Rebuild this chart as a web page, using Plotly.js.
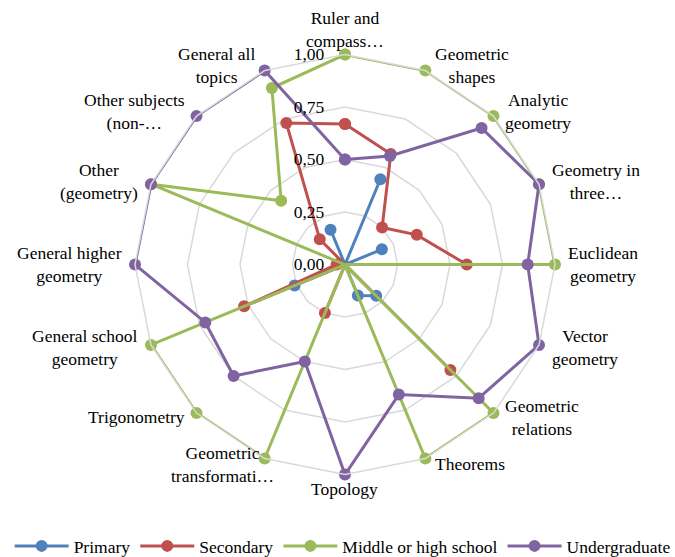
<!DOCTYPE html>
<html>
<head>
<meta charset="utf-8">
<script src="https://cdn.plot.ly/plotly-3.0.1.min.js"></script>
<style>
html, body { margin: 0; padding: 0; background: #ffffff; }
#chart { width: 675px; height: 557px; }
</style>
</head>
<body>
<div id="chart"></div>
<script>
// Category labels (clockwise from top), as truncated/wrapped in the original
const categories = [
  "Ruler and<br>compass…",
  "Geometric<br>shapes",
  "Analytic<br>geometry",
  "Geometry in<br>three…",
  "Euclidean<br>geometry",
  "Vector<br>geometry",
  "Geometric<br>relations",
  "Theorems",
  "Topology",
  "Geometric<br>transformati…",
  "Trigonometry",
  "General school<br>geometry",
  "General higher<br>geometry",
  "Other<br>(geometry)",
  "Other subjects<br>(non-…",
  "General all<br>topics"
];

const primary      = [0.00, 0.44, 0.00, 0.19, 0.00, 0.00, 0.21, 0.16, 0.00, 0.00, 0.00, 0.26, 0.00, 0.00, 0.00, 0.18];
const secondary    = [0.67, 0.57, 0.25, 0.37, 0.58, 0.00, 0.71, 0.00, 0.00, 0.25, 0.00, 0.52, 0.04, 0.00, 0.17, 0.73];
const middleHigh   = [1.00, 1.00, 1.00, 1.00, 1.00, 0.00, 1.00, 1.00, 0.00, 1.00, 1.00, 1.00, 0.00, 1.00, 0.43, 0.91];
const undergrad    = [0.50, 0.56, 0.92, 1.00, 0.87, 1.00, 0.90, 0.67, 1.00, 0.50, 0.75, 0.72, 1.00, 1.00, 1.00, 1.00];

const seriesNames  = ["Primary", "Secondary", "Middle or high school", "Undergraduate"];
const seriesValues = [primary, secondary, middleHigh, undergrad];
const seriesColors = ["#4F81BD", "#C0504D", "#9BBB59", "#8064A2"];

const radialTicks = [0, 0.25, 0.5, 0.75, 1];

const fontFamily = "Liberation Serif";
const fontSize = 17.5;

const W = 675, H = 557;
const domX = [0.2, 0.8222], domY = [0.148, 0.902];

const traces = seriesNames.map((name, i) => ({
  type: "scatterpolar",
  name: name,
  r: seriesValues[i].concat([seriesValues[i][0]]),
  theta: categories.concat([categories[0]]),
  mode: "lines+markers",
  line: { color: seriesColors[i], width: 3 },
  marker: { color: seriesColors[i], size: 12 },
  cliponaxis: false,
  hoverinfo: "name+r"
}));

// Category labels placed like the original: side labels aligned away from the
// centre and vertically centred, top/bottom labels centred.
const cxPx = (domX[0] + domX[1]) / 2 * W;
const cyPx = (1 - (domY[0] + domY[1]) / 2) * H;
const Rpx = Math.min((domX[1] - domX[0]) * W, (domY[1] - domY[0]) * H) / 2;
const n = categories.length;
const labelNudgeX = { 9: 19 };   // the original pushes this one label a little to the right
const annotations = categories.map((label, k) => {
  const a = 2 * Math.PI * k / n;
  const s = Math.sin(a), c = Math.cos(a);
  let px = cxPx + (Rpx + 6) * s;
  let py = cyPx - (Rpx + 6) * c;
  let xanchor = "center", yanchor = "middle";
  if (Math.abs(s) < 1e-6) {
    yanchor = c > 0 ? "bottom" : "top";
    py = cyPx - (Rpx + 2) * c;
  } else if (s > 0) {
    xanchor = "left"; px += 5;
  } else {
    xanchor = "right"; px -= 5;
  }
  px += labelNudgeX[k] || 0;
  return {
    xref: "paper", yref: "paper",
    x: px / W, y: 1 - py / H,
    xanchor: xanchor, yanchor: yanchor,
    text: label, showarrow: false, align: "center",
    font: { family: fontFamily, size: fontSize, color: "#000000" }
  };
});

const layout = {
  width: W,
  height: H,
  margin: { l: 0, r: 0, t: 0, b: 0, autoexpand: false },
  paper_bgcolor: "#ffffff",
  separators: ",.",
  font: { family: fontFamily, size: fontSize, color: "#000000" },
  showlegend: true,
  legend: {
    orientation: "h",
    x: 0.5076, xanchor: "center",
    y: 1 - 546 / H, yanchor: "middle",
    itemwidth: 54,
    font: { family: fontFamily, size: fontSize, color: "#000000" },
    traceorder: "normal"
  },
  annotations: annotations,
  polar: {
    domain: { x: domX, y: domY },
    bgcolor: "rgba(0,0,0,0)",
    gridshape: "linear",
    angularaxis: {
      type: "category",
      direction: "clockwise",
      rotation: 90,
      showgrid: false,
      showline: true,
      linecolor: "#d9d9d9",
      linewidth: 1.5,
      ticks: "",
      showticklabels: false
    },
    radialaxis: {
      range: [0, 1],
      angle: 90,
      side: "counterclockwise",
      tickvals: radialTicks,
      tickformat: ".2f",
      showline: false,
      showgrid: true,
      gridcolor: "#d9d9d9",
      gridwidth: 1.5,
      ticks: "outside",
      ticklen: 14,
      tickcolor: "rgba(0,0,0,0)",
      tickangle: 90,
      tickfont: { family: fontFamily, size: fontSize, color: "#000000" }
    }
  }
};

Plotly.newPlot("chart", traces, layout, { displayModeBar: false, staticPlot: true });
</script>
</body>
</html>
